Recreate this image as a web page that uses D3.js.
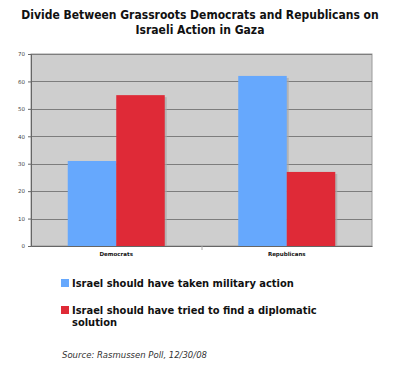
<!DOCTYPE html>
<html>
<head>
<meta charset="utf-8">
<script src="https://cdn.jsdelivr.net/npm/d3@7"></script>
<style>
  body { margin: 0; background: #fff; }
  svg { display: block; font-family: "DejaVu Sans", Verdana, sans-serif; }
  .cond { font-family: "DejaVu Sans Condensed", "DejaVu Sans", sans-serif; font-stretch: condensed; }
</style>
</head>
<body>
<div id="chart"></div>
<script>
// data
const categories = ["Democrats", "Republicans"];
const seriesNames = ["Israel should have taken military action", "Israel should have tried to find a diplomatic solution"];
const military = [31, 62];
const diplomatic = [55, 27];
const yTicks = [0, 10, 20, 30, 40, 50, 60, 70];
const titleLines = ["Divide Between Grassroots Democrats and Republicans on", "Israeli Action in Gaza"];
const sourceText = "Source: Rasmussen Poll, 12/30/08";

const colors = ["#66a8fd", "#df2a37"];

const W = 400, H = 376;
const margin = { top: 54, right: 28, bottom: 130, left: 31 };
const width = W - margin.left - margin.right;
const height = H - margin.top - margin.bottom;

const svg = d3.select("#chart").append("svg")
    .attr("width", W)
    .attr("height", H);

// title
svg.append("g")
    .attr("class", "cond")
    .selectAll("text")
    .data(titleLines)
    .join("text")
    .attr("x", W / 2)
    .attr("y", (d, i) => 19 + i * 15)
    .attr("text-anchor", "middle")
    .attr("font-weight", "bold")
    .attr("font-size", "12px")
    .attr("fill", "#111")
    .text(d => d);

const g = svg.append("g")
    .attr("transform", `translate(${margin.left},${margin.top})`);

const x = d3.scaleBand()
    .domain(categories)
    .range([0, width]);

const xSub = d3.scaleBand()
    .domain([0, 1])
    .range([x.bandwidth() / 2 - 48.5, x.bandwidth() / 2 + 48.5]);

const y = d3.scaleLinear()
    .domain([0, 70])
    .range([height, 0]);

// plot background
g.append("rect")
    .attr("width", width)
    .attr("height", height)
    .attr("fill", "#cecece")
    .attr("stroke", "#9a9a9a");

// gridlines
g.append("g")
    .selectAll("line")
    .data(yTicks.filter(d => d > 0))
    .join("line")
    .attr("x1", 0)
    .attr("x2", width)
    .attr("y1", d => Math.round(y(d)) + 0.5)
    .attr("y2", d => Math.round(y(d)) + 0.5)
    .attr("stroke", "#7d7d7d")
    .attr("stroke-width", 1);

// bars (with a faint shadow)
const groups = g.selectAll(".grp")
    .data(categories)
    .join("g")
    .attr("class", "grp")
    .attr("transform", d => `translate(${x(d)},0)`);

const rows = categories.map((c, i) => [military[i], diplomatic[i]]);

groups.selectAll(".shadow")
    .data((d, i) => rows[i])
    .join("rect")
    .attr("class", "shadow")
    .attr("x", (d, j) => xSub(j) + 2)
    .attr("y", d => y(d) + 2)
    .attr("width", xSub.bandwidth())
    .attr("height", d => height - y(d) - 2)
    .attr("fill", "#a8a8a8")
    .attr("opacity", 0.7);

groups.selectAll(".bar")
    .data((d, i) => rows[i])
    .join("rect")
    .attr("class", "bar")
    .attr("x", (d, j) => xSub(j))
    .attr("y", d => y(d))
    .attr("width", xSub.bandwidth())
    .attr("height", d => height - y(d))
    .attr("fill", (d, j) => colors[j]);

// axes
const yAxis = d3.axisLeft(y).tickValues(yTicks).tickSize(3).tickPadding(3);
g.append("g")
    .attr("class", "y-axis")
    .call(yAxis)
    .call(a => a.select(".domain").attr("stroke", "#666"))
    .call(a => a.selectAll(".tick line").attr("stroke", "#666"))
    .call(a => a.selectAll("text")
        .attr("font-size", "5.5px")
        .attr("fill", "#444")
        .attr("font-family", "DejaVu Sans, sans-serif"));

const xAxis = d3.axisBottom(x).tickSize(0).tickPadding(6);
g.append("g")
    .attr("class", "x-axis")
    .attr("transform", `translate(0,${height})`)
    .call(xAxis)
    .call(a => a.select(".domain").attr("stroke", "#666"))
    .call(a => a.selectAll("text")
        .attr("font-size", "5.5px")
        .attr("font-weight", "bold")
        .attr("fill", "#111")
        .attr("font-family", "DejaVu Sans, sans-serif"));

// small divider tick between categories
g.append("line")
    .attr("x1", x("Republicans") + 0.5)
    .attr("x2", x("Republicans") + 0.5)
    .attr("y1", height)
    .attr("y2", height + 4)
    .attr("stroke", "#aaa");

// legend
const legend = svg.append("g")
    .attr("class", "cond")
    .attr("transform", "translate(61,0)");

const legendRows = [
    { lines: ["Israel should have taken military action"], y: 279 },
    { lines: ["Israel should have tried to find a diplomatic", "solution"], y: 306 }
];

legendRows.forEach((r, i) => {
    legend.append("rect")
        .attr("x", 0)
        .attr("y", r.y)
        .attr("width", 8)
        .attr("height", 8)
        .attr("fill", colors[i]);
    legend.selectAll(".lt" + i)
        .data(r.lines)
        .join("text")
        .attr("x", 11)
        .attr("y", (d, k) => r.y + 8 + k * 12)
        .attr("font-size", "11px")
        .attr("font-weight", "bold")
        .attr("fill", "#111")
        .text(d => d);
});

// source
svg.append("text")
    .attr("x", 62)
    .attr("y", 358)
    .attr("font-size", "8.5px")
    .attr("font-style", "italic")
    .attr("fill", "#333")
    .text(sourceText);
</script>
</body>
</html>
